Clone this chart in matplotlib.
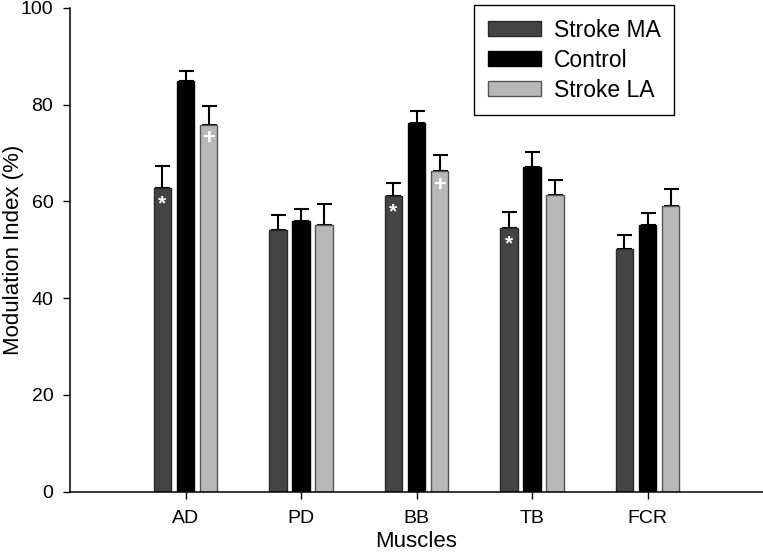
import numpy as np
import matplotlib.pyplot as plt

plt.rcParams['font.family'] = ['Liberation Sans', 'DejaVu Sans']

muscles = ['AD', 'PD', 'BB', 'TB', 'FCR']
series = ['Stroke MA', 'Control', 'Stroke LA']
ma = [62.8, 54.0, 61.1, 54.6, 50.2]
ma_err = [4.5, 3.1, 2.8, 3.3, 2.9]
ctrl = [85.0, 55.9, 76.3, 67.2, 55.1]
ctrl_err = [2.0, 2.5, 2.5, 3.0, 2.6]
la = [75.9, 55.1, 66.3, 61.4, 59.0]
la_err = [3.9, 4.4, 3.2, 3.0, 3.5]
star_idx = [0, 2, 3]   # * on Stroke MA
plus_idx = [0, 2]      # + on Stroke LA

colors = ['#444444', '#000000', '#b8b8b8']
edges = ['#2a2a2a', '#000000', '#555555']

fig = plt.figure(figsize=(7.63, 5.54), dpi=100)
ax = fig.add_axes([70/763, 1 - 491.5/554, 1 - 70/763, (491.5 - 8)/554])

x = np.arange(1, len(muscles) + 1)
w = 0.15
offs = [-0.2, 0.0, 0.2]
vals = [ma, ctrl, la]
errs = [ma_err, ctrl_err, la_err]
for k in range(3):
    ax.bar(x + offs[k], vals[k], w, color=colors[k], edgecolor=edges[k],
           linewidth=1, label=series[k], zorder=2)
    ax.errorbar(x + offs[k], vals[k], yerr=[np.zeros(5), errs[k]], fmt='none',
                ecolor='black', elinewidth=1.5, capsize=5.4, capthick=1.5, zorder=1)

for i in star_idx:
    ax.text(x[i] + offs[0], ma[i] - 1.4, '*', color='white', fontsize=15,
            fontweight='bold', ha='center', va='top', zorder=3)
for i in plus_idx:
    ax.text(x[i] + offs[2], la[i] - 0.8, '+', color='white', fontsize=16,
            fontweight='bold', ha='center', va='top', zorder=3)

ax.set_xlim(0, 6)
ax.set_ylim(0, 100)
ax.set_xticks(x)
ax.set_xticklabels(muscles)
ax.set_yticks(np.arange(0, 101, 20))
ax.tick_params(axis='both', direction='out', length=5, width=1, labelsize=14, pad=7)
ax.tick_params(axis='x', pad=8.5)
for s in ['top', 'right']:
    ax.spines[s].set_visible(False)
for s in ['left', 'bottom']:
    ax.spines[s].set_linewidth(1.1)

ax.set_xlabel('Muscles', fontsize=16, labelpad=3)
ax.set_ylabel('Modulation Index (%)', fontsize=16)
ax.yaxis.set_label_coords(-0.066, 0.5)

leg = ax.legend(loc='upper right', bbox_to_anchor=(0.8716, 1.006), borderaxespad=0,
                fontsize=16.5, fancybox=False, edgecolor='black', framealpha=1,
                handlelength=2.3, handleheight=0.6, handletextpad=0.55,
                labelspacing=0.3, borderpad=0.6)
leg.get_frame().set_linewidth(1)

fig.savefig('out.png', dpi=100)
